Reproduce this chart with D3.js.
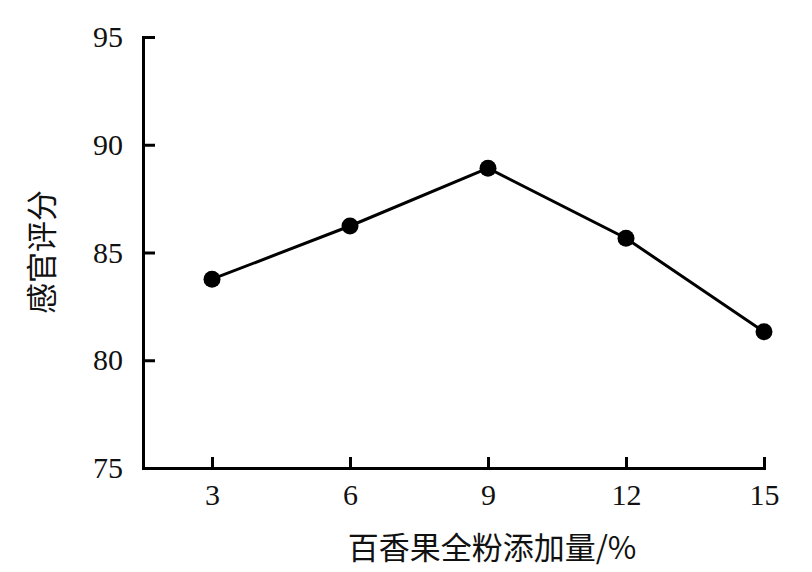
<!DOCTYPE html>
<html><head><meta charset="utf-8">
<script src="https://cdn.jsdelivr.net/npm/d3@7"></script>
<style>
body{margin:0;background:#fff;}
svg{display:block;}
</style></head>
<body>
<svg id="c" width="812" height="572"></svg>
<script>
const xValues = [3, 6, 9, 12, 15];
const scores = [83.76, 86.23, 88.91, 85.66, 81.32];
const yTicks = [75, 80, 85, 90, 95];
const xLabel = "百香果全粉添加量/%";
const yLabel = "感官评分";

(function () {
const svg = d3.select("#c");
const plotLeft = 143, plotTop = 37, plotBottom = 468;
const x = d3.scaleLinear().domain([1.5, 15]).range([plotLeft, 764]);
const y = d3.scaleLinear().domain([75, 95]).range([plotBottom, plotTop]);

const tickFont = "'Liberation Serif','DejaVu Serif',serif";
const cjkFont = "'Noto Sans CJK SC','Noto Sans CJK JP',sans-serif";

const gx = svg.append("g").attr("transform", `translate(0,${plotBottom})`)
  .call(d3.axisBottom(x).tickValues(xValues).tickSizeInner(-11).tickSizeOuter(0).tickPadding(16).tickFormat(d3.format("d")));
const gy = svg.append("g").attr("transform", `translate(${plotLeft},0)`)
  .call(d3.axisLeft(y).tickValues(yTicks).tickSizeInner(-12).tickSizeOuter(0).tickPadding(20).tickFormat(d3.format("d")));

[gx, gy].forEach(g => {
  g.select(".domain").attr("stroke", "#000").attr("stroke-width", 3).attr("stroke-linecap", "square");
  g.selectAll(".tick line").attr("stroke", "#000").attr("stroke-width", 3);
  g.selectAll(".tick text").attr("fill", "#111").style("font-family", tickFont).style("font-size", "30px");
});

const line = d3.line().x((d, i) => x(xValues[i])).y(d => y(d));
svg.append("path").datum(scores).attr("d", line)
  .attr("fill", "none").attr("stroke", "#000").attr("stroke-width", 3);

svg.selectAll("circle.pt").data(scores).join("circle").attr("class", "pt")
  .attr("cx", (d, i) => x(xValues[i])).attr("cy", d => y(d)).attr("r", 8.5).attr("fill", "#000");

svg.append("text").attr("x", 492).attr("y", 559).attr("text-anchor", "middle")
  .style("font-family", cjkFont).style("font-size", "31px").attr("fill", "#111").text(xLabel);

svg.append("text").attr("transform", "translate(53,252) rotate(-90)").attr("text-anchor", "middle")
  .style("font-family", cjkFont).style("font-size", "31px").attr("fill", "#111").text(yLabel);
})();
</script>
</body></html>
